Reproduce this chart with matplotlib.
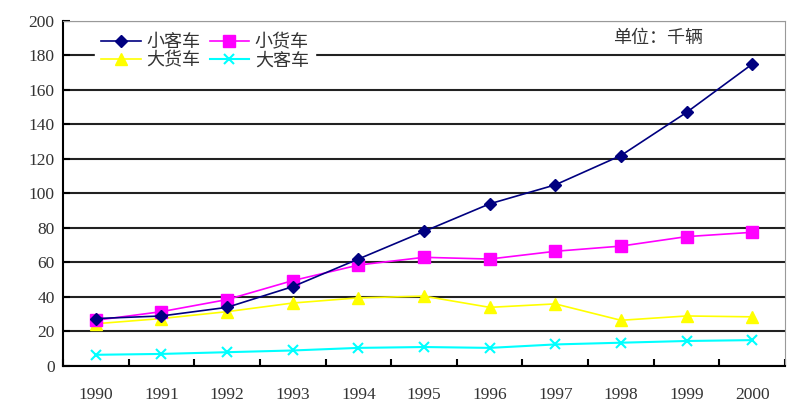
import matplotlib
matplotlib.use("Agg")
import matplotlib.pyplot as plt
import numpy as np

plt.rcParams['font.family'] = ['Noto Sans CJK SC', 'DejaVu Sans']

years = ['1990', '1991', '1992', '1993', '1994', '1995', '1996', '1997', '1998', '1999', '2000']
small_bus = [27.5, 29, 34, 46, 62, 78, 94, 105, 122, 147, 175]
small_truck = [26.5, 31.5, 38.5, 49.5, 58.5, 63, 62, 66.5, 69.5, 75, 77.5]
big_truck = [24.5, 27.5, 31.5, 36.5, 39.5, 40.5, 34, 36, 26.5, 29, 28.5]
big_bus = [6.5, 7, 8, 9, 10.5, 11, 10.5, 12.5, 13.5, 14.5, 15]
series_names = ['小客车', '小货车', '大货车', '大客车']
unit_label = '单位：千辆'

fig = plt.figure(figsize=(7.94, 4.18), dpi=100)
ax = fig.add_axes([0.0793, 0.1244, 0.9094, 0.8254])

x = np.arange(len(years))
h1, = ax.plot(x, small_bus, color='#000080', marker='D', markersize=6, lw=1.2, label=series_names[0], zorder=5)
h2, = ax.plot(x, small_truck, color='#FF00FF', marker='s', markersize=8, lw=1.2, label=series_names[1], zorder=4)
h3, = ax.plot(x, big_truck, color='#FFFF00', marker='^', markersize=8, lw=1.2, label=series_names[2], zorder=3)
h4, = ax.plot(x, big_bus, color='#00FFFF', marker='x', markersize=7, mew=1.5, lw=1.5, label=series_names[3], zorder=3)

ax.set_xlim(-0.5, len(years) - 0.5)
ax.set_ylim(0, 200)
ax.set_yticks(np.arange(0, 201, 20))
ax.set_xticks(x)
ax.set_xticklabels(years)
ax.set_xticks(np.arange(-0.5, len(years), 1), minor=True)
ax.tick_params(axis='x', which='major', length=0, pad=15)
ax.tick_params(axis='x', which='minor', length=5, direction='in', width=1.5)
ax.tick_params(axis='y', length=5, direction='in', width=1.5, pad=6)
for lbl in ax.get_yticklabels() + ax.get_xticklabels():
    lbl.set_color('#333333')
    lbl.set_family(['Liberation Serif', 'DejaVu Serif'])
    lbl.set_fontsize(12.5)

ax.yaxis.grid(True, color='#222222', lw=1.5)
ax.set_axisbelow(True)
ax.spines['left'].set_color('black')
ax.spines['left'].set_linewidth(1.5)
ax.spines['bottom'].set_color('black')
ax.spines['bottom'].set_linewidth(1.5)
ax.spines['top'].set_color('#999999')
ax.spines['right'].set_color('#999999')

leg = ax.legend([h1, h3, h2, h4], [series_names[0], series_names[2], series_names[1], series_names[3]],
                ncol=2, loc='upper left', bbox_to_anchor=(0.032, 1.009), frameon=True,
                fancybox=False, edgecolor='white', framealpha=1, fontsize=13,
                handlelength=2.2, columnspacing=0.5, handletextpad=0.3,
                labelspacing=0.0, borderpad=0.35)
leg.set_zorder(10)
for t in leg.get_texts():
    t.set_color('#333333')

ax.text(0.824, 0.951, unit_label, transform=ax.transAxes, ha='center', va='center',
        fontsize=13, color='#333333')

fig.savefig('out.png', dpi=100)
